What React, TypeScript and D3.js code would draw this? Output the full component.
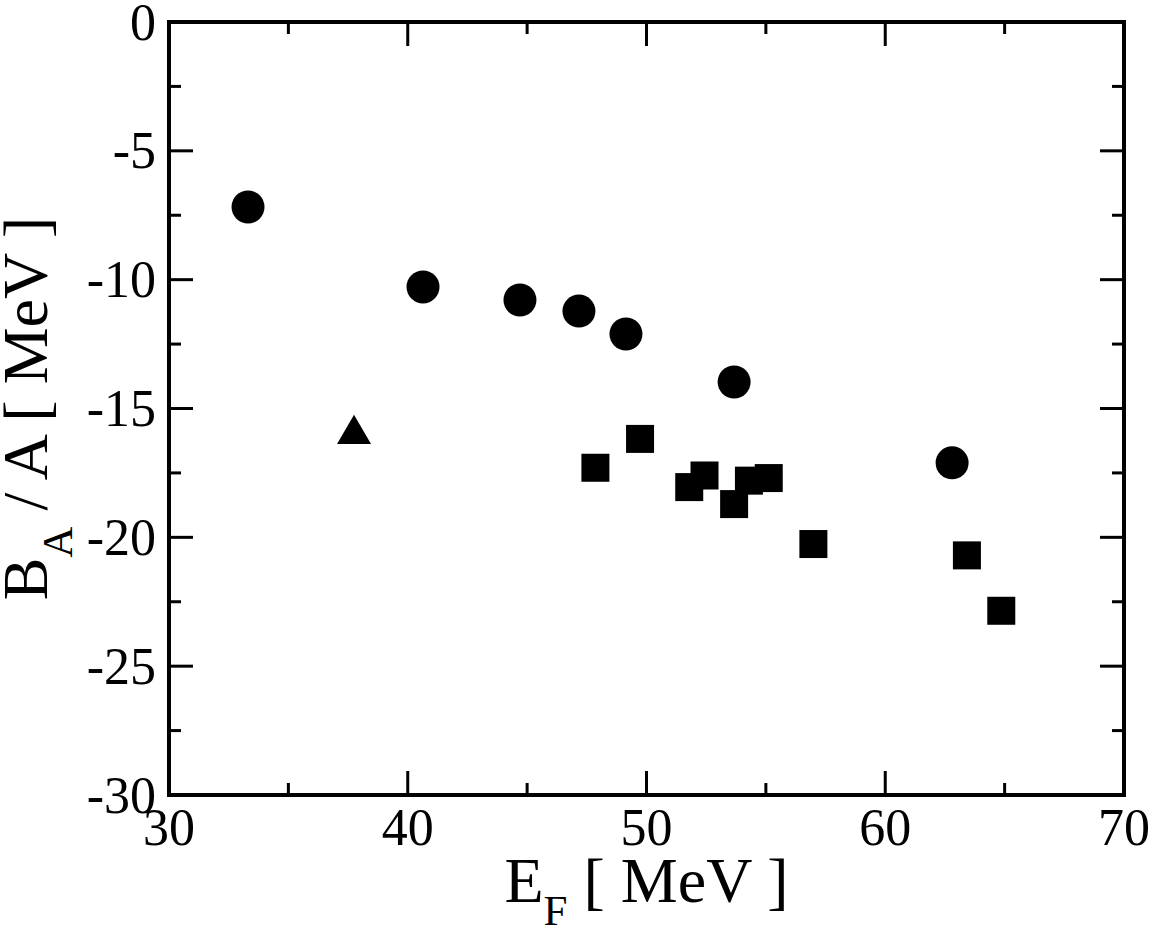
import React from 'react'
import * as d3 from 'd3'

// circles
const circleX = [33.31, 40.64, 44.7, 47.17, 49.14, 53.67, 62.8]
const circleY = [-7.18, -10.28, -10.79, -11.22, -12.11, -13.97, -17.11]

// squares
const squareX = [47.86, 49.73, 51.79, 52.43, 53.67, 54.29, 55.12, 56.99, 63.42, 64.86]
const squareY = [-17.3, -16.18, -18.05, -17.6, -18.71, -17.8, -17.7, -20.26, -20.7, -22.85]

// triangle
const triangleX = [37.75]
const triangleY = [-16.0]

const xMajor = [30, 40, 50, 60, 70]
const xMinor = [35, 45, 55, 65]
const yMajor = [0, -5, -10, -15, -20, -25, -30]
const yMinor = [-2.5, -7.5, -12.5, -17.5, -22.5, -27.5]

const W = 1154
const H = 929
const FONT = '"Liberation Serif", "Times New Roman", serif'

export default function App() {
  const x = d3.scaleLinear().domain([30, 70]).range([169, 1124])
  const y = d3.scaleLinear().domain([0, -30]).range([22, 795])
  const [x0, x1] = x.range()
  const [y0, y1] = y.range()

  const tri = d3.symbol().type(d3.symbolTriangle).size(500)()
  const sq = 28

  const major = 24
  const minor = 12

  return (
    <svg width={W} height={H} style={{ position: 'absolute', left: 0, top: 0, background: '#fff' }}>
      <g stroke="#000" strokeWidth={3}>
        {xMajor.map(v => (
          <g key={'xm' + v}>
            <line x1={x(v)} x2={x(v)} y1={y1} y2={y1 - major} />
            <line x1={x(v)} x2={x(v)} y1={y0} y2={y0 + major} />
          </g>
        ))}
        {xMinor.map(v => (
          <g key={'xn' + v}>
            <line x1={x(v)} x2={x(v)} y1={y1} y2={y1 - minor} />
            <line x1={x(v)} x2={x(v)} y1={y0} y2={y0 + minor} />
          </g>
        ))}
        {yMajor.map(v => (
          <g key={'ym' + v}>
            <line x1={x0} x2={x0 + major} y1={y(v)} y2={y(v)} />
            <line x1={x1} x2={x1 - major} y1={y(v)} y2={y(v)} />
          </g>
        ))}
        {yMinor.map(v => (
          <g key={'yn' + v}>
            <line x1={x0} x2={x0 + minor} y1={y(v)} y2={y(v)} />
            <line x1={x1} x2={x1 - minor} y1={y(v)} y2={y(v)} />
          </g>
        ))}
      </g>
      <rect x={x0} y={y0} width={x1 - x0} height={y1 - y0} fill="none" stroke="#000" strokeWidth={4} />

      {circleX.map((v, i) => (
        <circle key={'c' + i} cx={x(v)} cy={y(circleY[i])} r={16.5} fill="#000" />
      ))}
      {squareX.map((v, i) => (
        <rect key={'s' + i} x={x(v) - sq / 2} y={y(squareY[i]) - sq / 2} width={sq} height={sq} fill="#000" />
      ))}
      {triangleX.map((v, i) => (
        <path key={'t' + i} d={tri || ''} transform={`translate(${x(v)},${y(triangleY[i])})`} fill="#000" />
      ))}

      <g fontFamily={FONT} fontSize={52} fill="#000">
        {xMajor.map(v => (
          <text key={'xl' + v} x={x(v)} y={845} textAnchor="middle">{v}</text>
        ))}
        {yMajor.map(v => (
          <text key={'yl' + v} x={156} y={y(v) + 17.5} textAnchor="end">{v}</text>
        ))}
      </g>

      <text x={(x0 + x1) / 2} y={902} textAnchor="middle" fontFamily={FONT} fontSize={64}>
        E<tspan fontSize={43} dy={23}>F</tspan><tspan dy={-23}> [ MeV ]</tspan>
      </text>
      <text
        transform={`translate(47,${(y0 + y1) / 2}) rotate(-90)`}
        textAnchor="middle"
        fontFamily={FONT}
        fontSize={64}
      >
        B<tspan fontSize={43} dy={25}>A</tspan><tspan dy={-25}> / A [ MeV ]</tspan>
      </text>
    </svg>
  )
}
